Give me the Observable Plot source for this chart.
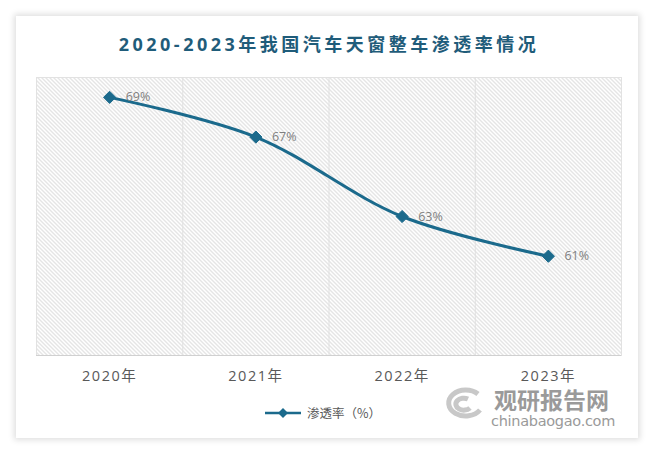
<!DOCTYPE html>
<html><head><meta charset="utf-8">
<script src="https://cdn.jsdelivr.net/npm/d3@7"></script>
<script src="https://cdn.jsdelivr.net/npm/@observablehq/plot@0.6"></script>
<style>
html,body{margin:0;padding:0;background:#fff;width:658px;height:455px;overflow:hidden;font-family:"Open Sans","Noto Sans CJK SC",sans-serif;}
#card{position:absolute;left:16px;top:16px;width:622px;height:422px;background:#fff;box-shadow:0 0 6px 2px rgba(0,0,0,0.13);}
#title{position:absolute;left:0;top:30px;width:658px;text-align:center;font-size:18px;font-weight:bold;color:#1f5c7a;letter-spacing:3.5px;font-family:"Open Sans","Noto Sans CJK SC",sans-serif;}
#chart{position:absolute;left:0;top:0;}
#legend{position:absolute;left:265px;top:403px;font-size:12.5px;color:#595959;display:flex;align-items:center;font-family:"Noto Sans CJK SC",sans-serif;}
#wm1{position:absolute;left:494px;top:388px;font-size:23px;line-height:23px;font-weight:bold;color:#9a9a9a;font-family:"Noto Sans CJK SC",sans-serif;}
#wm2{position:absolute;left:491px;top:414px;font-size:14.5px;line-height:15px;color:#9a9a9a;font-family:"DejaVu Sans",sans-serif;letter-spacing:-0.3px;}
</style></head>
<body>
<div id="card"></div>
<div id="chart"></div>
<div id="title">2020-2023年我国汽车天窗整车渗透率情况</div>
<div id="legend"><svg width="38" height="12"><line x1="0" y1="6" x2="36" y2="6" stroke="#1b6a8c" stroke-width="2.5"/><path d="M18,1 L23,6 L18,11 L13,6 Z" fill="#1b6a8c"/></svg><span style="margin-left:4px">渗透率（%）</span></div>
<svg id="logo" style="position:absolute;left:440px;top:386px" width="46" height="34"><g fill="none" stroke="#c8c8c8" stroke-width="5"><path d="M38,8 A17,13 0 1 0 40,24"/><path d="M28,13 A8,6 0 1 0 30,22"/></g></svg>
<div id="wm1">观研报告网</div>
<div id="wm2">chinabaogao.com</div>
<script>
const years = ["2020年","2021年","2022年","2023年"];
const rates = [69, 67, 63, 61];
const labels = ["69%","67%","63%","61%"];
const data = years.map((y,i)=>({i, year:y, rate:rates[i], label:labels[i]}));
const boundaries = years.slice(1).map((y,i)=>i+0.5);

const color = "#1b6a8c";
const plot = Plot.plot({
  width: 658, height: 400,
  marginLeft: 36, marginRight: 37, marginTop: 77, marginBottom: 45,
  x: {domain: [-0.5, 3.5], axis: null},
  y: {domain: [56, 70], axis: null},
  style: {fontFamily: "\"Open Sans\",\"Noto Sans CJK SC\",sans-serif", color: "#595959", overflow: "visible"},
  marks: [
    Plot.frame({fill: "url(#hatch)", stroke: "#e2e2e2"}),
    Plot.ruleX(boundaries, {stroke: "#e0e0e0", strokeWidth: 1}),
    Plot.ruleY([56], {stroke: "#d0d0d0", strokeWidth: 1.2}),
    Plot.line(data, {x: "i", y: "rate", stroke: color, strokeWidth: 3, curve: "catmull-rom"}),
    Plot.dot(data, {x: "i", y: "rate", symbol: "diamond2", r: 5.5, fill: color, stroke: color, strokeWidth: 1}),
    Plot.text(data, {x: "i", y: "rate", text: "label", textAnchor: "start", dx: 16, fill: "#7f7f7f", fontSize: 12.5}),
    Plot.axisX({ticks: [0,1,2,3], tickFormat: i => years[i], tickSize: 0, tickPadding: 15, fill: "#595959", fontSize: 14.5, label: null})
  ]
});
const svg = d3.select(plot);
const defs = svg.insert("defs", ":first-child");
const pat = defs.append("pattern").attr("id","hatch").attr("patternUnits","userSpaceOnUse").attr("width",4).attr("height",4);
pat.append("rect").attr("width",4).attr("height",4).attr("fill","#ffffff");
pat.append("path").attr("d","M-1,-1 L5,5 M-1,3 L1,5 M3,-1 L5,1").attr("stroke","#c4c4c4").attr("stroke-width",0.9);
svg.selectAll("[aria-label='x-axis tick label'] text").attr("letter-spacing","1.5px");
document.getElementById("chart").appendChild(plot);
</script>
</body></html>
